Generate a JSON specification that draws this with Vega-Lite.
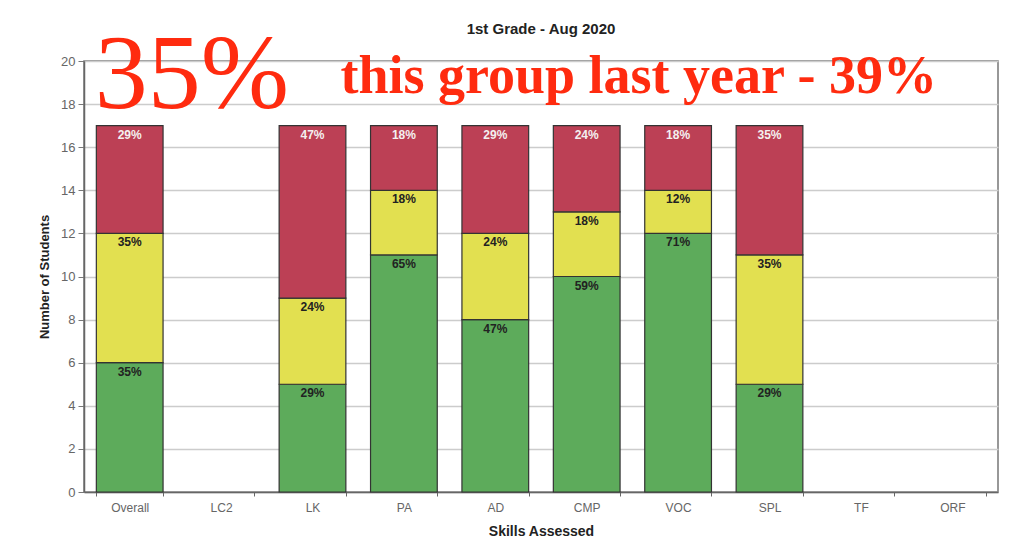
{
  "$schema": "https://vega.github.io/schema/vega-lite/v6.json",
  "autosize": {"type": "none"},
  "width": 914,
  "height": 431,
  "padding": {"left": 84, "top": 61, "right": 11, "bottom": 49},
  "background": "#ffffff",
  "title": {
    "text": "1st Grade - Aug 2020",
    "font": "Liberation Sans",
    "fontSize": 15,
    "fontWeight": "bold",
    "color": "#222222",
    "offset": -14
  },
  "datasets": {
    "scores": [
      {"skill": "Overall", "level": "At Benchmark", "rank": 1, "count": 6, "pct": "35%"},
      {"skill": "Overall", "level": "Below Benchmark", "rank": 2, "count": 6, "pct": "35%"},
      {"skill": "Overall", "level": "Well Below Benchmark", "rank": 3, "count": 5, "pct": "29%"},
      {"skill": "LK", "level": "At Benchmark", "rank": 1, "count": 5, "pct": "29%"},
      {"skill": "LK", "level": "Below Benchmark", "rank": 2, "count": 4, "pct": "24%"},
      {"skill": "LK", "level": "Well Below Benchmark", "rank": 3, "count": 8, "pct": "47%"},
      {"skill": "PA", "level": "At Benchmark", "rank": 1, "count": 11, "pct": "65%"},
      {"skill": "PA", "level": "Below Benchmark", "rank": 2, "count": 3, "pct": "18%"},
      {"skill": "PA", "level": "Well Below Benchmark", "rank": 3, "count": 3, "pct": "18%"},
      {"skill": "AD", "level": "At Benchmark", "rank": 1, "count": 8, "pct": "47%"},
      {"skill": "AD", "level": "Below Benchmark", "rank": 2, "count": 4, "pct": "24%"},
      {"skill": "AD", "level": "Well Below Benchmark", "rank": 3, "count": 5, "pct": "29%"},
      {"skill": "CMP", "level": "At Benchmark", "rank": 1, "count": 10, "pct": "59%"},
      {"skill": "CMP", "level": "Below Benchmark", "rank": 2, "count": 3, "pct": "18%"},
      {"skill": "CMP", "level": "Well Below Benchmark", "rank": 3, "count": 4, "pct": "24%"},
      {"skill": "VOC", "level": "At Benchmark", "rank": 1, "count": 12, "pct": "71%"},
      {"skill": "VOC", "level": "Below Benchmark", "rank": 2, "count": 2, "pct": "12%"},
      {"skill": "VOC", "level": "Well Below Benchmark", "rank": 3, "count": 3, "pct": "18%"},
      {"skill": "SPL", "level": "At Benchmark", "rank": 1, "count": 5, "pct": "29%"},
      {"skill": "SPL", "level": "Below Benchmark", "rank": 2, "count": 6, "pct": "35%"},
      {"skill": "SPL", "level": "Well Below Benchmark", "rank": 3, "count": 6, "pct": "35%"}
    ],
    "notes": [
      {"note": "35%", "where": "Overall", "level_y": 17.82},
      {"note": "this group last year - 39%", "where": "LK", "level_y": 18.52}
    ]
  },
  "encoding": {
    "x": {
      "field": "skill",
      "type": "nominal",
      "sort": null,
      "scale": {
        "domain": ["Overall", "LC2", "LK", "PA", "AD", "CMP", "VOC", "SPL", "TF", "ORF"],
        "paddingInner": 0.27,
        "paddingOuter": 0.135
      },
      "axis": {
        "title": "Skills Assessed",
        "titleFont": "Liberation Sans",
        "titleFontSize": 14,
        "titleFontWeight": "bold",
        "titleColor": "#222222",
        "titlePadding": 11,
        "labelAngle": 0,
        "labelFont": "Liberation Sans",
        "labelFontSize": 12,
        "labelColor": "#666666",
        "labelPadding": 6,
        "tickBand": "extent",
        "tickSize": 4,
        "tickColor": "#666666",
        "domainColor": "#666666",
        "domainWidth": 1.5,
        "grid": false
      }
    },
    "y": {
      "field": "count",
      "type": "quantitative",
      "stack": "zero",
      "scale": {"domain": [0, 20], "nice": false},
      "axis": {
        "title": "Number of Students",
        "titleFont": "Liberation Sans",
        "titleFontSize": 13,
        "titleFontWeight": "bold",
        "titleColor": "#222222",
        "titlePadding": 9,
        "values": [0, 2, 4, 6, 8, 10, 12, 14, 16, 18, 20],
        "labelFont": "Liberation Sans",
        "labelFontSize": 13,
        "labelColor": "#666666",
        "labelPadding": 3,
        "tickSize": 6,
        "tickColor": "#777777",
        "domainColor": "#666666",
        "domainWidth": 1.5,
        "gridColor": "#cccccc",
        "gridWidth": 1.5
      }
    }
  },
  "layer": [
    {
      "data": {"name": "scores"},
      "mark": {"type": "bar", "stroke": "#333333", "strokeWidth": 1.2},
      "encoding": {
        "order": {"field": "rank", "type": "quantitative"},
        "color": {
          "field": "level",
          "type": "nominal",
          "scale": {
            "domain": ["At Benchmark", "Below Benchmark", "Well Below Benchmark"],
            "range": ["#5dab5b", "#e2e050", "#bc4055"]
          },
          "legend": null
        }
      }
    },
    {
      "data": {"name": "scores"},
      "mark": {"type": "text", "baseline": "top", "dy": 4, "font": "Liberation Sans", "fontSize": 12, "fontWeight": "bold"},
      "encoding": {
        "order": {"field": "rank", "type": "quantitative"},
        "text": {"field": "pct", "type": "nominal"},
        "fill": {
          "condition": {"test": "datum.level === 'Well Below Benchmark'", "value": "#f4f0f0"},
          "value": "#222222"
        }
      }
    },
    {
      "data": {"name": "notes"},
      "transform": [{"filter": "datum.where === 'Overall'"}],
      "mark": {"type": "text", "align": "left", "baseline": "alphabetic", "dx": -35, "font": "Liberation Serif", "fontSize": 106, "fontWeight": "normal", "color": "#ff2b0f", "clip": false},
      "encoding": {
        "x": {"field": "where", "type": "nominal"},
        "y": {"field": "level_y", "type": "quantitative"},
        "text": {"field": "note"}
      }
    },
    {
      "data": {"name": "notes"},
      "transform": [{"filter": "datum.where === 'LK'"}],
      "mark": {"type": "text", "align": "left", "baseline": "alphabetic", "dx": 28, "font": "Liberation Serif", "fontSize": 54, "fontWeight": "bold", "color": "#ff2b0f", "clip": false},
      "encoding": {
        "x": {"field": "where", "type": "nominal"},
        "y": {"field": "level_y", "type": "quantitative"},
        "text": {"field": "note"}
      }
    }
  ],
  "config": {
    "view": {"stroke": "#777777", "strokeWidth": 1.5},
    "axis": {"gridColor": "#cccccc"}
  }
}
